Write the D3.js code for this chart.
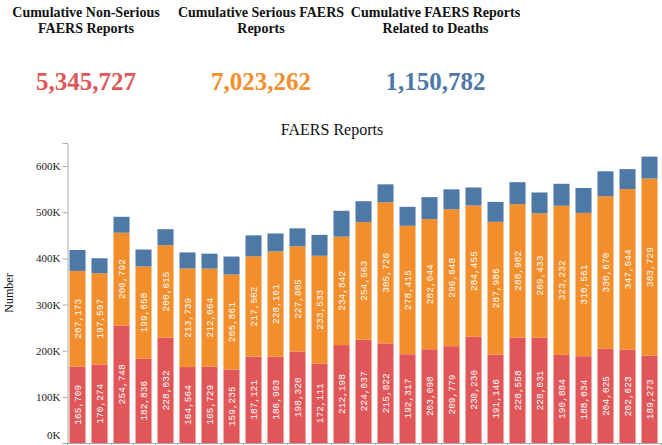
<!DOCTYPE html>
<html>
<head>
<meta charset="utf-8">
<script src="https://cdn.jsdelivr.net/npm/d3@7/dist/d3.min.js"></script>
<style>
  html, body { margin: 0; padding: 0; background: #fff; }
  svg { display: block; }
</style>
</head>
<body>
<svg id="chart" width="662" height="445"></svg>
<script>
// ---- data ----
const kpiTitles = [
  ["Cumulative Non-Serious", "FAERS Reports"],
  ["Cumulative Serious FAERS", "Reports"],
  ["Cumulative FAERS Reports", "Related to Deaths"]
];
const kpiValues = [5345727, 7023262, 1150782];

const nonSerious = [165709, 170274, 254748, 182836, 228032, 164564, 165729, 159235, 187121,
  186993, 198320, 172111, 212198, 224037, 215822, 192317, 203098, 209779, 230230, 191146,
  228558, 228031, 190884, 188034, 204025, 202623, 189273];
const serious = [207173, 197597, 200792, 199650, 200615, 213739, 212064, 205861, 217502,
  228101, 227805, 233533, 234842, 254563, 305726, 278415, 282044, 296648, 284455, 287986,
  288982, 269433, 323232, 310561, 330670, 347544, 383729];
const deaths = [45300, 32400, 34600, 36700, 34600, 34600, 32400, 38900, 45300, 38900,
  38900, 45300, 56100, 45300, 38900, 41000, 47500, 43200, 38900, 43200, 47500, 45300,
  47500, 54000, 54000, 43200, 47500];
const yTicks = [0, 100000, 200000, 300000, 400000, 500000, 600000];
const seriesNames = ["nonSerious", "serious", "deaths"];
const colors = ["#e15759", "#f28e2b", "#4e79a7"];

// ---- chart ----
const svg = d3.select("#chart");
const serif = "'Liberation Serif', 'Times New Roman', serif";
const mono = "'Liberation Mono', 'DejaVu Sans Mono', monospace";

// KPI headers
const kpiX = [86, 261, 435.5];
kpiTitles.forEach((lines, i) => {
  const t = svg.append("text")
    .attr("x", kpiX[i]).attr("y", 17)
    .attr("text-anchor", "middle")
    .style("font-family", serif).style("font-weight", "bold").style("font-size", "14px")
    .attr("fill", "#111");
  lines.forEach((l, j) => t.append("tspan").attr("x", kpiX[i]).attr("dy", j === 0 ? 0 : 16).text(l));
  svg.append("text")
    .attr("x", kpiX[i]).attr("y", 90)
    .attr("text-anchor", "middle")
    .style("font-family", serif).style("font-weight", "bold").style("font-size", "25px")
    .attr("fill", colors[i])
    .text(d3.format(",")(kpiValues[i]));
});

// Chart title
svg.append("text").attr("x", 332).attr("y", 135).attr("text-anchor", "middle")
  .style("font-family", serif).style("font-size", "16px").attr("fill", "#111")
  .text("FAERS Reports");

const idx = d3.range(nonSerious.length);
const rows = idx.map(i => ({ i, nonSerious: nonSerious[i], serious: serious[i], deaths: deaths[i] }));
const stack = d3.stack().keys(seriesNames)(rows);

const x = d3.scaleBand().domain(idx).range([67.5, 661.5]).padding(0);
const y = d3.scaleLinear().domain([0, 650000]).range([443, 143]);

const bw = x.bandwidth();
const barOff = bw * 0.09, barW = bw * 0.73;

const g = svg.append("g");
stack.forEach((s, k) => {
  g.selectAll(null).data(s).enter().append("rect")
    .attr("x", d => x(d.data.i) + barOff)
    .attr("width", barW)
    .attr("y", d => y(d[1]))
    .attr("height", d => y(d[0]) - y(d[1]))
    .attr("fill", colors[k]);
});

// labels for red and orange segments
stack.slice(0, 2).forEach((s, k) => {
  g.selectAll(null).data(s).enter().append("text")
    .attr("transform", d => `translate(${x(d.data.i) + barOff + barW / 2 + 3.5},${(y(d[0]) + y(d[1])) / 2}) rotate(-90)`)
    .attr("text-anchor", "middle")
    .style("font-family", mono).style("font-size", "9.5px")
    .attr("fill", "#fff")
    .text(d => d3.format(",")(d[1] - d[0]));
});

// y axis
const yAxis = svg.append("g").attr("transform", "translate(67.5,0)")
  .call(d3.axisLeft(y).tickValues(yTicks).tickSize(5).tickPadding(2).tickFormat(d => d / 1000 + "K"));
yAxis.select(".domain").attr("stroke", "#aaa");
yAxis.selectAll(".tick line").attr("stroke", "#aaa");
yAxis.selectAll(".tick text").style("font-family", serif).style("font-size", "11px").attr("fill", "#222");
yAxis.selectAll(".tick").filter(d => d === 0).select("text").attr("dy", "-0.4em");

// x axis (band boundaries)
const xa = svg.append("g");
xa.append("line").attr("x1", 67.5).attr("x2", 661.5).attr("y1", 443.5).attr("y2", 443.5).attr("stroke", "#aaa");
xa.selectAll(null).data(idx.concat([idx.length])).enter().append("line")
  .attr("x1", i => (i < idx.length ? x(i) : x(idx.length - 1) + x.step()))
  .attr("x2", i => (i < idx.length ? x(i) : x(idx.length - 1) + x.step()))
  .attr("y1", 443).attr("y2", 448).attr("stroke", "#aaa");

// y title
svg.append("text").attr("transform", "translate(13,293) rotate(-90)")
  .attr("text-anchor", "middle")
  .style("font-family", serif).style("font-size", "12px").attr("fill", "#111")
  .text("Number");
</script>
</body>
</html>
